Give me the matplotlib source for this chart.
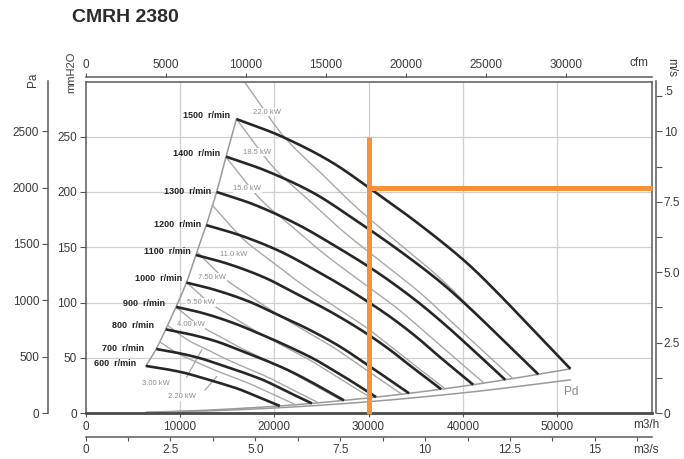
import numpy as np
import matplotlib
matplotlib.use("Agg")
import matplotlib.pyplot as plt
from matplotlib.ticker import FixedLocator

plt.rcParams['font.family'] = ['Liberation Sans', 'DejaVu Sans']

# ---------------------------------------------------------------- data
title = "CMRH 2380"

speeds = [1500, 1400, 1300, 1200, 1100, 1000, 900, 800, 700, 600]

# flow (m3/h) and static pressure (mmH2O) along each speed curve
q1500 = [16000, 20600, 25900, 30200, 35500, 40400, 44000, 46800, 51400]
p1500 = [266, 251, 228, 203, 170, 136, 106, 81, 40]
q1400 = [14900, 19200, 24200, 28200, 33100, 37700, 41100, 43700, 48000]
p1400 = [232, 219, 199, 177, 148, 118, 92, 70.6, 35]
q1300 = [13900, 17900, 22400, 26200, 30800, 35000, 38100, 40600, 44500]
p1300 = [200, 188.5, 171, 152.5, 128, 102, 80, 60.8, 30]
q1200 = [12800, 16500, 20700, 24200, 28400, 32300, 35200, 37400, 41100]
p1200 = [170, 160.5, 146, 130, 109, 87, 68, 51.8, 25.6]
q1100 = [11700, 15100, 19000, 22100, 26000, 29600, 32300, 34300, 37700]
p1100 = [143, 135, 122.5, 109, 91.5, 73, 57, 43.6, 21.5]
q1000 = [10700, 13700, 17300, 20100, 23700, 26900, 29300, 31200, 34300]
p1000 = [118, 111.5, 101, 90, 75.5, 60.5, 47, 36, 17.8]
q900 = [9600, 12400, 15500, 18100, 21300, 24200, 26400, 28100, 30800]
p900 = [96, 90.5, 82, 73, 61, 49, 38, 29.2, 14.4]
q800 = [8500, 11000, 13800, 16100, 18900, 21500, 23500, 25000, 27400]
p800 = [75.7, 71.4, 65, 57.7, 48.3, 38.7, 30, 23, 11.4]
q700 = [7500, 9600, 12100, 14100, 16600, 18900, 20500, 21800, 24000]
p700 = [57.9, 54.7, 49.7, 44.2, 37, 29.6, 23.1, 17.6, 8.7]
q600 = [6400, 8200, 10400, 12100, 14200, 16200, 17600, 18700, 20600]
p600 = [42.6, 40.2, 36.5, 32.5, 27.2, 21.8, 17, 13, 6.4]

# left limit of the working range (through the start of each speed curve)
q_limit = [6400, 7500, 8500, 9600, 10700, 11700, 12800, 13900, 14900, 16000]
p_limit = [42.6, 57.9, 75.7, 96, 118, 143, 170, 200, 232, 266]

# right limit of the working range (through the end of each speed curve)
q_end = [6400, 12000, 20600, 27400, 34300, 41100, 48000, 51400]
p_end = [0.6, 2.2, 6.4, 11.4, 17.8, 25.6, 35, 40]

# dynamic pressure Pd
q_pd = [6400, 12000, 20600, 30000, 41100, 51400]
p_pd = [0.5, 1.6, 4.8, 10.2, 19.2, 30]

# motor power lines (kW)
kw_labels = ["22.0", "18.5", "15.0", "11.0", "7.50", "5.50", "4.00", "3.00", "2.20"]
qkw22 = [16950, 21150, 25260, 28670, 33060, 37550, 42080, 48010]
pkw22 = [298.5, 249, 214.7, 186.5, 154.5, 122.3, 84.3, 34.9]
qkw185 = [16000, 19970, 23840, 27060, 31210, 35440, 39730, 45320]
pkw185 = [266, 221.9, 191.3, 166.2, 137.7, 109.0, 75.1, 31.1]
qkw15 = [14920, 18610, 22230, 25230, 29100, 33040, 37040, 42250]
pkw15 = [231.2, 192.9, 166.3, 144.5, 119.6, 94.7, 65.3, 27.0]
qkw11 = [13450, 16790, 20050, 22760, 26240, 29800, 33400, 38100]
pkw11 = [188.0, 156.9, 135.2, 117.5, 97.3, 77.1, 53.1, 22.0]
qkw75 = [11840, 14770, 17640, 20030, 23090, 26220, 29390, 33530]
pkw75 = [145.6, 121.5, 104.7, 91.0, 75.3, 59.7, 41.1, 17.0]
qkw55 = [10680, 13320, 15910, 18060, 20830, 23650, 26510, 30240]
pkw55 = [118.4, 98.8, 85.2, 74.0, 61.3, 48.5, 33.5, 13.8]
qkw40 = [9600, 11980, 14310, 16240, 18730, 21270, 23840, 27190]
pkw40 = [95.8, 79.9, 68.9, 59.8, 49.6, 39.2, 27.0, 11.2]
qkw30 = [8720, 10880, 13000, 14750, 17020, 19320, 21660, 24710]
pkw30 = [79.1, 65.9, 56.9, 49.4, 40.9, 32.4, 22.3, 9.2]
qkw22b = [7870, 9820, 11730, 13310, 15350, 17430, 19540, 22290]
pkw22b = [64.4, 53.7, 46.3, 40.2, 33.3, 26.4, 18.2, 7.5]

# selected duty point
duty_flow = 30000        # m3/h
duty_pressure_pa = 2000  # Pa

# axis scales
x_max = 60000
y_max = 300
mm_to_pa = 9.80665
m3h_per_cfm = 1.699011
m3h_per_m3s = 3600.0
mm_per_ms = 25.48

# ---------------------------------------------------------------- layout
W, H = 684, 459
left_px, right_px, top_px, bottom_px = 85.5, 651.5, 81.5, 413.0
plot_w, plot_h = right_px - left_px, bottom_px - top_px


def smooth(xs, ys, n=30, alpha=0.5):
    """Centripetal Catmull-Rom path through the points (spacing taken on screen)."""
    x = np.asarray(xs, float)
    y = np.asarray(ys, float)
    if len(x) < 3:
        return x, y
    sx, sy = plot_w / x_max, plot_h / y_max
    pts = np.column_stack([x * sx, y * sy])
    pts = np.vstack([2 * pts[0] - pts[1], pts, 2 * pts[-1] - pts[-2]])
    out = []
    for i in range(1, len(pts) - 2):
        p0, p1, p2, p3 = pts[i - 1], pts[i], pts[i + 1], pts[i + 2]
        t0 = 0.0
        t1 = t0 + np.linalg.norm(p1 - p0) ** alpha
        t2 = t1 + np.linalg.norm(p2 - p1) ** alpha
        t3 = t2 + np.linalg.norm(p3 - p2) ** alpha
        t = np.linspace(t1, t2, n, endpoint=False)[:, None]
        a1 = (t1 - t) / (t1 - t0) * p0 + (t - t0) / (t1 - t0) * p1
        a2 = (t2 - t) / (t2 - t1) * p1 + (t - t1) / (t2 - t1) * p2
        a3 = (t3 - t) / (t3 - t2) * p2 + (t - t2) / (t3 - t2) * p3
        b1 = (t2 - t) / (t2 - t0) * a1 + (t - t0) / (t2 - t0) * a2
        b2 = (t3 - t) / (t3 - t1) * a2 + (t - t1) / (t3 - t1) * a3
        out.append((t2 - t) / (t2 - t1) * b1 + (t - t1) / (t2 - t1) * b2)
    out.append(pts[-2][None, :])
    out = np.vstack(out)
    return out[:, 0] / sx, out[:, 1] / sy


fig = plt.figure(figsize=(W / 100, H / 100), dpi=100)
fig.patch.set_facecolor("white")
ax = fig.add_axes([left_px / W, 1 - bottom_px / H, plot_w / W, plot_h / H])
ax.set_xlim(0, x_max)
ax.set_ylim(0, y_max)

TXT = "#3a3a3a"
FS = 8.5

# grid
for gx in range(10000, x_max, 10000):
    ax.axvline(gx, color="#cfcfcf", lw=0.9, zorder=0)
for gy in range(50, y_max, 50):
    ax.axhline(gy, color="#cfcfcf", lw=0.9, zorder=0)

# frame
for side in ("top", "right", "left"):
    ax.spines[side].set_color("#5a5a5a")
    ax.spines[side].set_linewidth(1.1)
ax.spines["bottom"].set_color("#4a4a4a")
ax.spines["bottom"].set_linewidth(2.0)

# main axes ticks
ax.set_xticks(range(0, 60000, 10000))
ax.set_xticklabels([str(v) for v in range(0, 60000, 10000)])
ax.yaxis.set_major_locator(FixedLocator(range(0, 300, 50)))
ax.tick_params(axis="x", direction="out", length=3, width=0.8, pad=3,
               labelsize=FS, labelcolor=TXT, color="#555")
ax.tick_params(axis="y", direction="out", length=4, width=0.8, pad=2,
               labelsize=FS, labelcolor=TXT, color="#555")

# Pa scale
pa_ax = ax.secondary_yaxis(-(left_px - 47.5) / plot_w,
                           functions=(lambda v: v * mm_to_pa, lambda v: v / mm_to_pa))
pa_ax.yaxis.set_major_locator(FixedLocator(range(0, 3000, 500)))
pa_ax.spines["left"].set_color("#5a5a5a")
pa_ax.spines["left"].set_linewidth(1.1)
pa_ax.tick_params(direction="out", length=4, width=0.8, pad=2,
                  labelsize=FS, labelcolor=TXT, color="#555")

# air velocity scale
vel_ax = ax.secondary_yaxis(1 + (655.5 - right_px) / plot_w,
                            functions=(lambda v: v / mm_per_ms, lambda v: v * mm_per_ms))
vel_ax.yaxis.set_major_locator(FixedLocator([0, 2.5, 5, 7.5, 10]))
vel_ax.yaxis.set_minor_locator(FixedLocator([1.25, 3.75, 6.25, 8.75, 11.25]))
vel_ax.set_yticklabels(["0", "2.5", "5.0", "7.5", "10"])
vel_ax.spines["right"].set_color("#5a5a5a")
vel_ax.spines["right"].set_linewidth(1.1)
vel_ax.tick_params(which="both", direction="out", length=4, width=0.8, pad=2,
                   labelsize=FS, labelcolor=TXT, color="#555")
ax.text(1 + 12 / plot_w, 11.4 * mm_per_ms, ".5", transform=ax.get_yaxis_transform(),
        fontsize=FS, color=TXT, ha="left", va="center")

# cfm scale
cfm_ax = ax.secondary_xaxis(1 + 4 / plot_h,
                            functions=(lambda v: v / m3h_per_cfm, lambda v: v * m3h_per_cfm))
cfm_ax.xaxis.set_major_locator(FixedLocator(range(0, 35000, 5000)))
cfm_ax.spines["top"].set_color("#5a5a5a")
cfm_ax.spines["top"].set_linewidth(1.1)
cfm_ax.tick_params(direction="out", length=3, width=0.8, pad=2,
                   labelsize=FS, labelcolor=TXT, color="#555")

# m3/s scale
m3s_ax = ax.secondary_xaxis(-(437.0 - bottom_px) / plot_h,
                            functions=(lambda v: v / m3h_per_m3s, lambda v: v * m3h_per_m3s))
m3s_ax.xaxis.set_major_locator(FixedLocator([0, 2.5, 5, 7.5, 10, 12.5, 15]))
m3s_ax.xaxis.set_minor_locator(FixedLocator([1.25, 3.75, 6.25, 8.75, 11.25, 13.75, 16.25]))
m3s_ax.set_xticklabels(["0", "2.5", "5.0", "7.5", "10", "12.5", "15"])
m3s_ax.spines["bottom"].set_color("#5a5a5a")
m3s_ax.spines["bottom"].set_linewidth(1.1)
m3s_ax.tick_params(which="both", direction="out", length=3, width=0.8, pad=2,
                   labelsize=FS, labelcolor=TXT, color="#555")

# unit labels
fig.text(33 / W, 1 - 80 / H, "Pa", rotation=90, fontsize=FS, color=TXT, ha="center", va="center")
fig.text(71 / W, 1 - 72 / H, "mmH2O", rotation=90, fontsize=FS - 0.5, color=TXT,
         ha="center", va="center")
fig.text(639 / W, 1 - 63 / H, "cfm", fontsize=FS, color=TXT, ha="center", va="center")
fig.text(671 / W, 1 - 68 / H, "m/s", rotation=270, fontsize=FS, color=TXT, ha="center", va="center")
fig.text(646 / W, 1 - 425 / H, "m3/h", fontsize=FS, color=TXT, ha="center", va="center")
fig.text(646 / W, 1 - 450 / H, "m3/s", fontsize=FS, color=TXT, ha="center", va="center")

fig.text(72 / W, 1 - 18 / H, title, fontsize=14, fontweight="bold", color="#2b2b2b",
         ha="left", va="center")

# working range limits and dynamic pressure
for qs, ps in ((q_limit, p_limit), (q_end, p_end), (q_pd, p_pd)):
    sx, sy = smooth(qs, ps)
    ax.plot(sx, sy, color="#9a9a9a", lw=1.1, zorder=2, solid_capstyle="round")
ax.text(q_pd[-1] - 700, p_pd[-1] - 11, "Pd", fontsize=FS, color="#8a8a8a",
        ha="left", va="center")

# motor power lines
kw_q = [qkw22, qkw185, qkw15, qkw11, qkw75, qkw55, qkw40, qkw30, qkw22b]
kw_p = [pkw22, pkw185, pkw15, pkw11, pkw75, pkw55, pkw40, pkw30, pkw22b]
kw_text_pos = [(17800, 272), (16700, 236), (15650, 203), (14260, 143), (11930, 123),
               (10760, 100), (9700, 80), (6000, 27), (8750, 14.5)]
for qs, ps, lab, (tx, ty) in zip(kw_q, kw_p, kw_labels, kw_text_pos):
    sx, sy = smooth(qs, ps)
    ax.plot(sx, sy, color="#a8a8a8", lw=1.0, zorder=2)
    ax.text(tx, ty, f"{lab} kW", fontsize=5.5, color="#8c8c8c", ha="left", va="center",
            zorder=3, bbox=dict(facecolor="white", edgecolor="none", pad=0.4))
# leaders to the two smallest power lines
ax.plot([10730, 12320], [32.6, 57.1], color="#a8a8a8", lw=0.9, zorder=2)
ax.plot([12670, 13910], [20.8, 32.9], color="#a8a8a8", lw=0.9, zorder=2)

# speed curves
curve_q = [q1500, q1400, q1300, q1200, q1100, q1000, q900, q800, q700, q600]
curve_p = [p1500, p1400, p1300, p1200, p1100, p1000, p900, p800, p700, p600]
label_off = [(-6, 4), (-6, 3), (-5, 1), (-5, 1), (-5, 3), (-4, 4), (-11, 3), (-12, 4), (-12, 1), (-10, 2)]
for n, qs, ps, (dx, dy) in zip(speeds, curve_q, curve_p, label_off):
    sx, sy = smooth(qs, ps)
    ax.plot(sx, sy, color="#262626", lw=1.9, zorder=4, solid_capstyle="butt")
    ax.annotate(f"{n}  r/min", (qs[0], ps[0]), xytext=(dx, dy), textcoords="offset pixels",
                fontsize=6.5, fontweight="bold", color="#222", ha="right", va="center")

# duty point cross
duty_mm = duty_pressure_pa / mm_to_pa
ax.plot([duty_flow, duty_flow], [-1, 250], color="#F7913C", lw=3.6, zorder=6,
        solid_capstyle="butt", clip_on=False)
ax.plot([duty_flow, x_max], [duty_mm, duty_mm], color="#F7913C", lw=3.6, zorder=6,
        solid_capstyle="butt", clip_on=False)

fig.savefig("out.png", dpi=100, facecolor="white")
